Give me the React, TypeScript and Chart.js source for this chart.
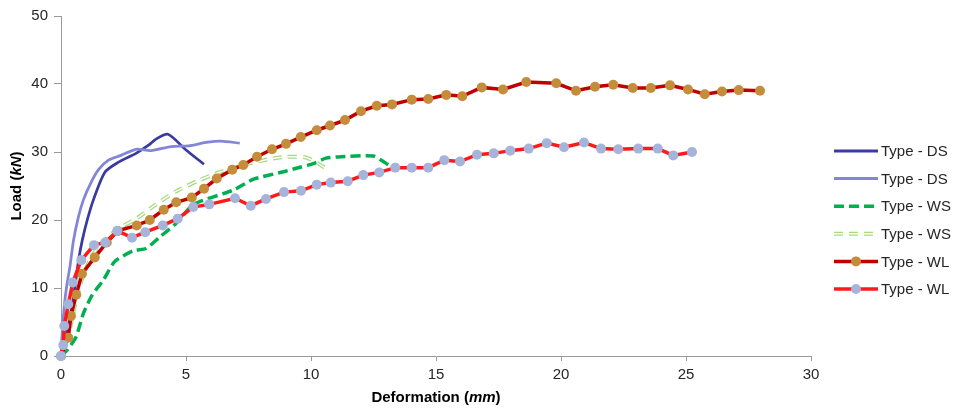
import React, { useEffect, useRef } from "react";
import { Chart, registerables } from "chart.js";

Chart.register(...registerables);

// ---- data ----
const DS1_X = [0, 0.2, 0.4, 0.55, 0.7, 0.85, 1.05, 1.3, 1.75, 2.3, 3.0, 3.5, 3.8, 4.28, 5.0, 5.72];
const DS1_Y = [0, 3, 6.5, 10, 14, 17, 20, 23, 27, 28.5, 29.8, 31, 31.9, 32.6, 30.3, 28.2];

const DS2_X = [0, 0.05, 0.15, 0.25, 0.36, 0.5, 0.7, 0.9, 1.2, 1.5, 1.9, 2.4, 3.0, 3.6, 4.4, 5.1, 5.8, 6.4, 7.15];
const DS2_Y = [0, 3.5, 8, 10.8, 13.2, 17, 20.5, 23, 25.5, 27.4, 28.8, 29.5, 30.4, 30.2, 30.8, 30.9, 31.4, 31.6, 31.3];

const WS1_X = [0, 0.25, 0.6, 0.9, 1.25, 1.7, 2.15, 2.9, 3.4, 3.95, 4.6, 5.3, 6.9, 7.7, 8.9, 9.6, 10.1, 10.6, 11.2, 12.5, 13.1, 13.35];
const WS1_Y = [0, 0.9, 2.8, 6.3, 9, 11.2, 13.9, 15.5, 15.8, 17.5, 19.5, 22.3, 24.4, 26, 27.1, 27.8, 28.3, 29.1, 29.3, 29.4, 28.1, 27.6];

const WS2_X = [0, 0.3, 0.5, 0.7, 0.9, 1.2, 1.6, 2.2, 3.1, 3.8, 4.6, 5.5, 6.4, 7.4, 8.4, 9.0, 9.8, 10.25, 10.7];
const WS2_Y = [0, 3, 6.5, 9.5, 12, 14.5, 16.5, 18.5, 20.4, 22.3, 24.2, 25.8, 27.1, 28.2, 29.0, 29.3, 29.2, 28.4, 27.3];

const WL1_X = [0, 0.29, 0.4, 0.61, 0.84, 1.35, 1.83, 2.27, 3.03, 3.55, 4.11, 4.61, 5.23, 5.72, 6.23, 6.85, 7.29, 7.84, 8.44, 9.0, 9.59, 10.23, 10.76, 11.36, 12.0, 12.63, 13.24, 14.03, 14.69, 15.41, 16.05, 16.83, 17.68, 18.61, 19.81, 20.6, 21.36, 22.09, 22.87, 23.59, 24.36, 25.08, 25.75, 26.44, 27.11, 27.96];
const WL1_Y = [0, 2.7, 5.9, 9.0, 12.1, 14.5, 16.7, 18.4, 19.2, 20.0, 21.5, 22.6, 23.3, 24.6, 26.1, 27.4, 28.1, 29.3, 30.4, 31.2, 32.2, 33.2, 33.9, 34.7, 36.0, 36.8, 37.0, 37.7, 37.8, 38.4, 38.2, 39.5, 39.2, 40.3, 40.1, 39.0, 39.6, 39.9, 39.4, 39.4, 39.8, 39.2, 38.5, 38.9, 39.1, 39.0];

const WL2_X = [0, 0.09, 0.13, 0.29, 0.47, 0.81, 1.32, 1.77, 2.25, 2.84, 3.37, 4.07, 4.67, 5.29, 5.93, 6.96, 7.59, 8.2, 8.92, 9.6, 10.23, 10.79, 11.47, 12.09, 12.73, 13.37, 14.03, 14.69, 15.33, 15.96, 16.64, 17.31, 17.97, 18.71, 19.43, 20.12, 20.92, 21.6, 22.29, 23.09, 23.87, 24.49, 25.24];
const WL2_Y = [0, 1.6, 4.4, 7.6, 10.8, 14.1, 16.3, 16.7, 18.4, 17.4, 18.2, 19.2, 20.2, 21.9, 22.3, 23.2, 22.1, 23.1, 24.1, 24.3, 25.2, 25.5, 25.7, 26.6, 27.0, 27.7, 27.7, 27.7, 28.8, 28.6, 29.6, 29.8, 30.2, 30.5, 31.3, 30.7, 31.4, 30.5, 30.4, 30.5, 30.5, 29.5, 30.0];

const SERIES_LABELS = ["Type - DS", "Type - DS", "Type - WS", "Type - WS", "Type - WL", "Type - WL"];
const X_TICKS = [0, 5, 10, 15, 20, 25, 30];
const Y_TICKS = [0, 10, 20, 30, 40, 50];

const FONT = '"Liberation Sans", Arial, sans-serif';
const TEXT = "#262626";
const AXIS = "#9a9a9a";

const C_DS1 = "#393C9E";
const C_DS2 = "#8385D6";
const C_WS1 = "#00B050";
const C_WS2 = "#A6DA7A";
const C_WL1 = "#C00000";
const C_WL1_M = "#C48D3C";
const C_WL2 = "#FF1A1A";
const C_WL2_M = "#A4B4DA";

function pts(xs: number[], ys: number[]) {
  return xs.map((x, i) => ({ x, y: ys[i] }));
}

type Piece = [string, boolean];

function drawMixed(ctx: CanvasRenderingContext2D, pieces: Piece[], cx: number, cy: number, size: number) {
  const fontOf = (it: boolean) => `${it ? "italic " : ""}bold ${size}px ${FONT}`;
  let total = 0;
  for (const [t, it] of pieces) {
    ctx.font = fontOf(it);
    total += ctx.measureText(t).width;
  }
  let x = cx - total / 2;
  ctx.textAlign = "left";
  ctx.textBaseline = "middle";
  ctx.fillStyle = "#000";
  for (const [t, it] of pieces) {
    ctx.font = fontOf(it);
    ctx.fillText(t, x, cy);
    x += ctx.measureText(t).width;
  }
}

const LEGEND_STYLE = [
  { color: C_DS1, width: 3, dash: [] as number[] },
  { color: C_DS2, width: 3, dash: [] as number[] },
  { color: C_WS1, width: 3.5, dash: [10, 5] },
  { color: C_WS2, width: 4, dash: [9, 6], hollow: true },
  { color: C_WL1, width: 3.5, dash: [] as number[], marker: C_WL1_M },
  { color: C_WL2, width: 3.5, dash: [] as number[], marker: C_WL2_M },
];

const overlayPlugin = {
  id: "overlayText",
  afterDraw(chart: any) {
    const ctx: CanvasRenderingContext2D = chart.ctx;
    const a = chart.chartArea;
    ctx.save();
    drawMixed(ctx, [["Deformation (", false], ["mm", true], [")", false]], (a.left + a.right) / 2, 398, 15);
    ctx.translate(17, (a.top + a.bottom) / 2);
    ctx.rotate(-Math.PI / 2);
    drawMixed(ctx, [["Load (", false], ["kN", true], [")", false]], 0, 0, 15);
    ctx.restore();

    // legend
    ctx.save();
    const x0 = 834;
    const x1 = 878;
    SERIES_LABELS.forEach((label, i) => {
      const s: any = LEGEND_STYLE[i];
      const y = 151 + i * 27.6;
      ctx.lineCap = "butt";
      ctx.beginPath();
      ctx.setLineDash(s.dash);
      ctx.lineWidth = s.width;
      ctx.strokeStyle = s.color;
      ctx.moveTo(x0, y);
      ctx.lineTo(x1, y);
      ctx.stroke();
      if (s.hollow) {
        ctx.beginPath();
        ctx.lineWidth = 1.5;
        ctx.strokeStyle = "#ffffff";
        ctx.moveTo(x0, y);
        ctx.lineTo(x1, y);
        ctx.stroke();
      }
      ctx.setLineDash([]);
      if (s.marker) {
        ctx.beginPath();
        ctx.fillStyle = s.marker;
        ctx.arc((x0 + x1) / 2, y, 5, 0, Math.PI * 2);
        ctx.fill();
      }
      ctx.font = `15px ${FONT}`;
      ctx.fillStyle = TEXT;
      ctx.textAlign = "left";
      ctx.textBaseline = "middle";
      ctx.fillText(label, 881, y + 1);
    });
    ctx.restore();
  },
};

export default function App() {
  const ref = useRef<HTMLCanvasElement>(null);

  useEffect(() => {
    if (!ref.current) return;
    const lineDs = (label: string, xs: number[], ys: number[], color: string, width: number, order: number, extra: any = {}) => ({
      label,
      data: pts(xs, ys),
      borderColor: color,
      backgroundColor: color,
      borderWidth: width,
      pointRadius: 0,
      pointHoverRadius: 0,
      tension: 0,
      fill: false,
      clip: 8,
      order,
      ...extra,
    });

    const chart = new Chart(ref.current, {
      type: "line",
      data: {
        datasets: [
          lineDs(SERIES_LABELS[0], DS1_X, DS1_Y, C_DS1, 2.75, 8, { tension: 0.25 }),
          lineDs(SERIES_LABELS[1], DS2_X, DS2_Y, C_DS2, 2.75, 7, { tension: 0.25 }),
          lineDs(SERIES_LABELS[2], WS1_X, WS1_Y, C_WS1, 3.5, 6, { borderDash: [10, 5], tension: 0.2 }),
          lineDs(SERIES_LABELS[3], WS2_X, WS2_Y, C_WS2, 4, 5, { borderDash: [9, 6], tension: 0.2 }),
          lineDs("", WS2_X, WS2_Y, "#ffffff", 1.5, 4, { borderDash: [9, 6], tension: 0.2 }),
          lineDs(SERIES_LABELS[4], WL1_X, WL1_Y, C_WL1, 3.5, 3, {
            pointRadius: 5,
            pointStyle: "circle",
            pointBackgroundColor: C_WL1_M,
            pointBorderColor: C_WL1_M,
            pointBorderWidth: 0,
          }),
          lineDs(SERIES_LABELS[5], WL2_X, WL2_Y, C_WL2, 3.5, 2, {
            pointRadius: 5,
            pointStyle: "circle",
            pointBackgroundColor: C_WL2_M,
            pointBorderColor: C_WL2_M,
            pointBorderWidth: 0,
          }),
        ],
      },
      options: {
        animation: false,
        responsive: false,
        devicePixelRatio: 1,
        layout: { padding: { left: 0, top: 16, right: 146, bottom: 0 } },
        plugins: {
          legend: { display: false },
          tooltip: { enabled: false },
          title: { display: false },
        },
        scales: {
          x: {
            type: "linear",
            min: 0,
            max: 30,
            afterFit: (s: any) => {
              s.height = 53;
            },
            afterBuildTicks: (s: any) => {
              s.ticks = X_TICKS.map((v) => ({ value: v }));
            },
            grid: {
              drawOnChartArea: false,
              drawTicks: true,
              tickLength: 5,
              tickColor: AXIS,
            },
            border: { display: true, color: AXIS, width: 1 },
            ticks: {
              color: TEXT,
              font: { family: FONT, size: 15 },
              padding: 5,
              maxRotation: 0,
            },
          },
          y: {
            type: "linear",
            min: 0,
            max: 50,
            afterFit: (s: any) => {
              s.width = 61;
            },
            afterBuildTicks: (s: any) => {
              s.ticks = Y_TICKS.map((v) => ({ value: v }));
            },
            grid: {
              drawOnChartArea: false,
              drawTicks: true,
              tickLength: 7,
              tickColor: AXIS,
            },
            border: { display: true, color: AXIS, width: 1 },
            ticks: {
              color: TEXT,
              font: { family: FONT, size: 15 },
              padding: 6,
            },
          },
        },
      },
      plugins: [overlayPlugin],
    });
    return () => chart.destroy();
  }, []);

  return (
    <div style={{ position: "fixed", left: 0, top: 0, width: 957, height: 409, background: "#fff" }}>
      <canvas ref={ref} width={957} height={409} style={{ width: 957, height: 409, display: "block" }} />
    </div>
  );
}
